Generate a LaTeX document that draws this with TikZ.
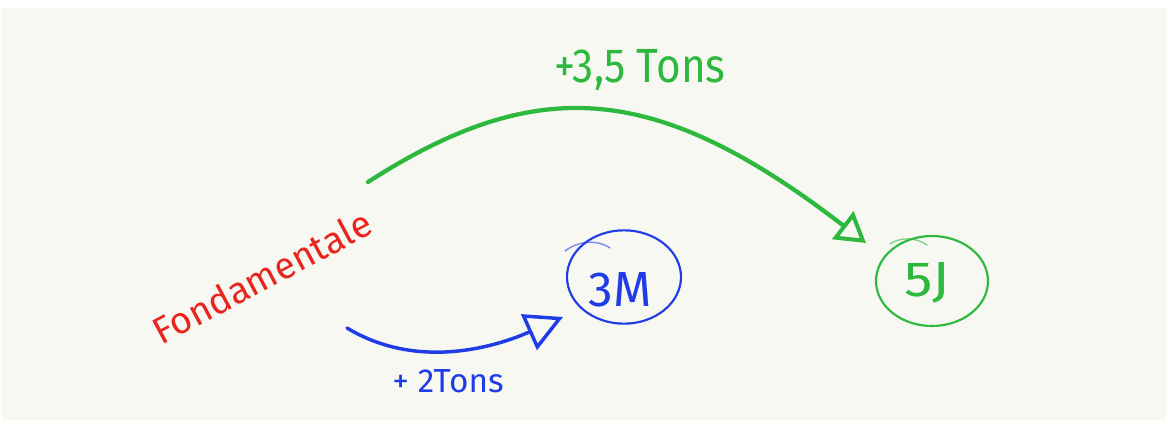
\documentclass[tikz,border=0pt]{standalone}
\usepackage{fontspec}
\setmainfont{Fira Sans}
\usetikzlibrary{arrows.meta,shapes.geometric}
\definecolor{paper}{HTML}{F8F8F3}
\definecolor{hred}{HTML}{E8261F}
\definecolor{hgreen}{HTML}{2DB83E}
\definecolor{hblue}{HTML}{1F3CE6}
\tikzset{
  hand/.style={inner sep=0pt, outer sep=0pt},
  oval/.style={draw, ellipse, line width=1.6pt, inner sep=0pt},
  faint/.style={line width=1pt, line cap=round, opacity=0.6},
  stroke/.style={line cap=round, line join=round},
}
\begin{document}
\begin{tikzpicture}[x=0.75pt,y=-0.75pt]
\useasboundingbox (0,0) rectangle (1168,425);
\fill[white] (0,0) rectangle (1168,425);
\fill[paper] (2,8) rectangle (1166,420);

% texts
\node[hand, text=hred, font=\fontsize{28}{30}\selectfont, rotate=28] (fond) at (262,277) {Fondamentale};
\node[hand, text=hgreen, font=\fontsize{36}{40}\selectfont, xscale=0.88] (lgreen) at (640,70) {+3,5 Tons};
\node[hand, text=hblue, font=\fontsize{25}{28}\selectfont] (lblue) at (448,381) {+ 2Tons};

% ovals
\node[oval, draw=hblue, minimum width=85.5pt, minimum height=70pt] (c3M) at (624,277) {};
\node[hand, text=hblue, font=\fontsize{37}{40}\selectfont] (t3M) at (620,290) {3M};
\node[oval, draw=hgreen, minimum width=84pt, minimum height=67.5pt] (c5J) at (932,281) {};
\node[hand, text=hgreen, font=\fontsize{37}{40}\selectfont, xscale=1.15] (t5J) at (927,283) {5J};

% small extra strokes on the ovals
\draw[hblue, faint] (565,251) .. controls (578,241) and (597,239) .. (610,248);
\draw[hgreen, faint] (890,244) .. controls (900,237) and (916,237) .. (927,245);

% connector ends
\coordinate (gs) at (368,182);
\coordinate (ge) at (866,243);
\coordinate (bs) at (347,328);
\coordinate (be) at (563,317);

% green arrow
\draw[stroke, hgreen, line width=3.2pt, -{Triangle[open, length=22pt, width=26pt, line width=3pt]}]
  (gs) .. controls (539,72) and (658,83) .. (ge);
% blue arrow
\draw[stroke, hblue, line width=2.6pt, -{Triangle[open, length=28pt, width=29pt, line width=2.6pt]}]
  (bs) .. controls (420,372) and (500,345) .. (be);
\end{tikzpicture}
\end{document}
